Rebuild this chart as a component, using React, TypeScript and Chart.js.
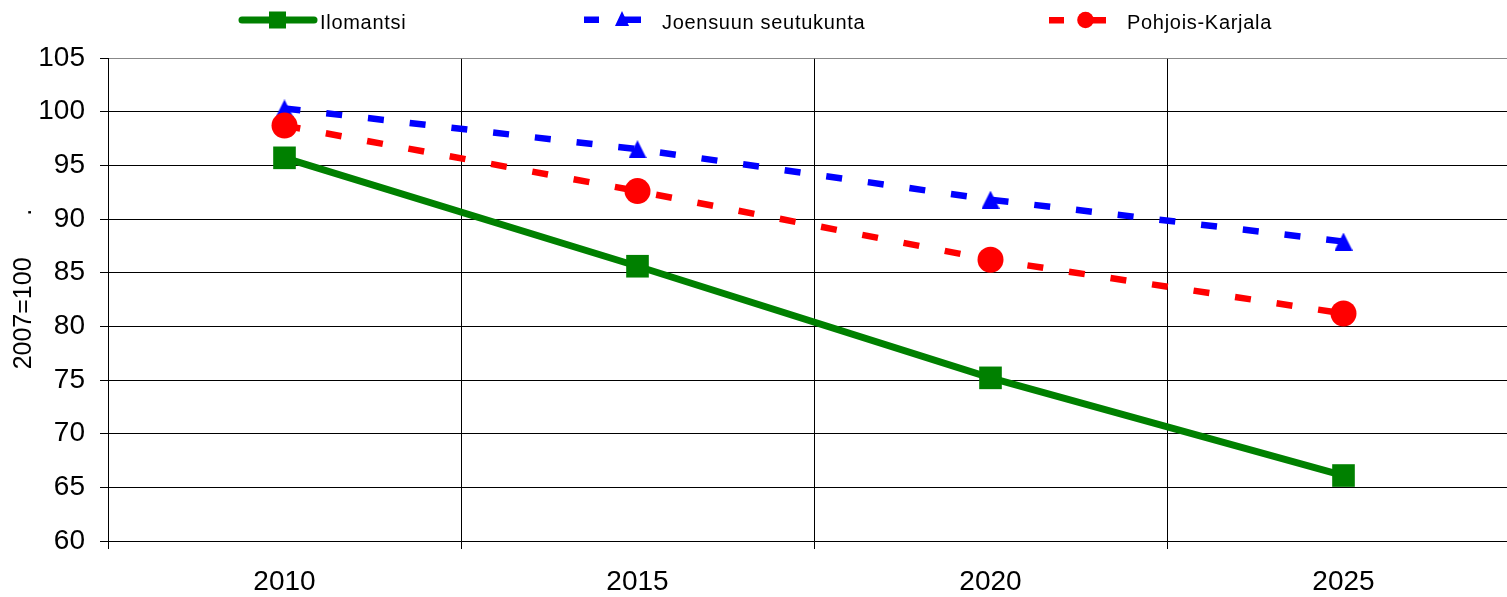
import React, { useEffect, useRef } from "react";
import { Chart, registerables } from "chart.js";

Chart.register(...registerables);

const categories = ["2010", "2015", "2020", "2025"];
const ilomantsi = [95.7, 85.6, 75.2, 66.1];
const joensuu = [100.3, 96.5, 91.8, 87.9];
const pohjoisKarjala = [98.7, 92.6, 86.2, 81.2];
const seriesNames = ["Ilomantsi", "Joensuun seutukunta", "Pohjois-Karjala"];
const yTitle = "   2007=100      .";
const yMin = 60;
const yMax = 105;
const yStep = 5;

const GREEN = "#008000";
const BLUE = "#0000FF";
const RED = "#FF0000";
const FONT = "'Liberation Sans', Arial, sans-serif";

function makeTriangle(w: number, h: number, color: string) {
  const c = document.createElement("canvas");
  c.width = w;
  c.height = h;
  const ctx = c.getContext("2d")!;
  ctx.fillStyle = color;
  ctx.beginPath();
  ctx.moveTo(w / 2, 0);
  ctx.lineTo(w, h);
  ctx.lineTo(0, h);
  ctx.closePath();
  ctx.fill();
  return c;
}

const legendPlugin = {
  id: "customLegend",
  afterDraw(chart: any) {
    const ctx = chart.ctx as CanvasRenderingContext2D;
    ctx.save();
    // Ilomantsi
    ctx.strokeStyle = GREEN;
    ctx.lineWidth = 7;
    ctx.lineCap = "round";
    ctx.beginPath();
    ctx.moveTo(242, 20);
    ctx.lineTo(314, 20);
    ctx.stroke();
    ctx.fillStyle = GREEN;
    ctx.fillRect(269, 11.5, 17, 17);
    // Joensuun seutukunta
    ctx.fillStyle = BLUE;
    ctx.fillRect(584, 16.5, 15, 6.5);
    ctx.fillRect(622, 16.5, 19, 6.5);
    ctx.beginPath();
    ctx.moveTo(622, 11);
    ctx.lineTo(629, 26);
    ctx.lineTo(615, 26);
    ctx.closePath();
    ctx.fill();
    // Pohjois-Karjala
    ctx.fillStyle = RED;
    ctx.fillRect(1049, 17, 15, 6.5);
    ctx.fillRect(1086, 17, 20, 6.5);
    ctx.beginPath();
    ctx.arc(1085.5, 20, 8.3, 0, Math.PI * 2);
    ctx.fill();
    // texts
    ctx.fillStyle = "#000";
    ctx.font = `20px ${FONT}`;
    (ctx as any).letterSpacing = "0.7px";
    ctx.textBaseline = "alphabetic";
    ctx.textAlign = "left";
    ctx.fillText(seriesNames[0], 320, 29);
    ctx.fillText(seriesNames[1], 662, 29);
    ctx.fillText(seriesNames[2], 1127, 29);
    ctx.restore();
  },
};

export default function App() {
  const ref = useRef<HTMLCanvasElement | null>(null);
  useEffect(() => {
    document.body.style.margin = "0";
    const tri = makeTriangle(18, 18, BLUE);
    const chart = new Chart(ref.current!, {
      type: "line",
      data: {
        labels: categories,
        datasets: [
          {
            label: seriesNames[0],
            data: ilomantsi,
            borderColor: GREEN,
            backgroundColor: GREEN,
            borderWidth: 7,
            pointStyle: "rect",
            pointRadius: 16,
            pointBorderWidth: 0,
            pointBackgroundColor: GREEN,
            order: 0,
          },
          {
            label: seriesNames[1],
            data: joensuu,
            borderColor: BLUE,
            backgroundColor: BLUE,
            borderWidth: 6.5,
            borderDash: [16, 26],
            borderCapStyle: "butt",
            pointStyle: tri as any,
            pointRadius: 9,
            pointBorderWidth: 0,
            order: 2,
          },
          {
            label: seriesNames[2],
            data: pohjoisKarjala,
            borderColor: RED,
            backgroundColor: RED,
            borderWidth: 6.5,
            borderDash: [16, 26],
            borderCapStyle: "butt",
            pointStyle: "circle",
            pointRadius: 13,
            pointBorderWidth: 0,
            pointBackgroundColor: RED,
            order: 1,
          },
        ],
      },
      options: {
        responsive: false,
        animation: false,
        layout: { autoPadding: false, padding: { top: 58, left: 0, right: 0, bottom: 0 } },
        plugins: {
          legend: { display: false },
          tooltip: { enabled: false },
        },
        scales: {
          x: {
            type: "category",
            offset: true,
            grid: {
              offset: true,
              color: "#000",
              tickColor: "#000",
              tickLength: 8,
              lineWidth: 1,
            },
            border: { color: "#000", width: 1 },
            ticks: {
              color: "#000",
              font: { family: FONT, size: 28 },
              padding: 16,
              maxRotation: 0,
            },
            afterFit: (scale: any) => {
              scale.height = 56;
            },
          },
          y: {
            min: yMin,
            max: yMax,
            ticks: {
              stepSize: yStep,
              color: "#000",
              font: { family: FONT, size: 28 },
              padding: 15,
            },
            grid: {
              color: (c: any) => (c.tick && c.tick.value === yMax ? "#888" : "#000"),
              tickColor: "#000",
              tickLength: 8,
              lineWidth: 1,
            },
            border: { color: "#000", width: 1 },
            title: {
              display: true,
              text: yTitle,
              color: "#000",
              font: { family: FONT, size: 25 },
              padding: { top: 9, bottom: 0 },
            },
            afterFit: (scale: any) => {
              scale.width = 108;
            },
          },
        },
      },
      plugins: [legendPlugin],
    });
    return () => chart.destroy();
  }, []);
  return (
    <div style={{ width: 1507, height: 597, overflow: "hidden", position: "relative" }}>
      <canvas ref={ref} width={1520} height={597} style={{ display: "block", width: 1520, height: 597 }} />
    </div>
  );
}
